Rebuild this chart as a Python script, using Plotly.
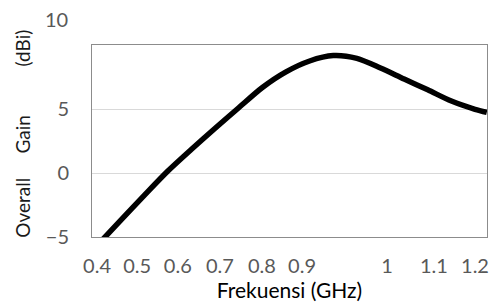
import plotly.graph_objects as go

# Frequency (GHz) and overall gain (dBi)
freq_ghz = [0.40, 0.45, 0.50, 0.55, 0.60, 0.65, 0.70, 0.75, 0.80, 0.85,
            0.90, 0.95, 1.00, 1.05, 1.10, 1.15, 1.20, 1.225]
gain_dbi = [-5.67, -3.70, -1.75, 0.15, 1.85, 3.50, 5.10, 6.68, 7.90, 8.75,
            9.17, 8.95, 8.20, 7.34, 6.50, 5.62, 4.98, 4.74]

x_tick_labels = ["0.4", "0.5", "0.6", "0.7", "0.8", "0.9", "1", "1.1", "1.2"]
# where the reference prints each x label along the axis (GHz units)
x_tick_positions = [0.40, 0.485, 0.571, 0.660, 0.749, 0.834, 1.014, 1.113, 1.200]

y_tick_values = [-5, 0, 5]
y_top_label = "10"

FONT = "Lato, Carlito, Calibri, sans-serif"
SP = "\u00a0"
ZW = "\u200b"

fig = go.Figure()
fig.add_trace(go.Scatter(
    x=freq_ghz, y=gain_dbi, mode="lines",
    line=dict(color="black", width=5.5, shape="spline", smoothing=0.8),
    showlegend=False, hoverinfo="x+y",
))

fig.update_layout(
    width=491, height=305,
    margin=dict(l=92, r=4, t=45, b=68),
    paper_bgcolor="white", plot_bgcolor="white",
    font=dict(family=FONT, size=20, color="#595959"),
    xaxis=dict(
        range=[0.3894, 1.2254],
        tickmode="array", tickvals=x_tick_positions, ticktext=x_tick_labels,
        showgrid=False, zeroline=False,
        showline=True, mirror=True, linecolor="#8c8c8c", linewidth=1,
        ticks="", ticklabelstandoff=11,
        tickfont=dict(family=FONT, size=20, color="#595959"),
        title=dict(text="Frekuensi (GHz)", standoff=5,
                   font=dict(family=FONT, size=21, color="#000000")),
        automargin=False,
    ),
    yaxis=dict(
        range=[-5, 10],
        tickmode="array", tickvals=y_tick_values,
        showgrid=True, gridcolor="#d9d9d9", gridwidth=1,
        zeroline=False,
        showline=True, mirror=True, linecolor="#8c8c8c", linewidth=1,
        ticks="", ticklabelstandoff=18,
        tickfont=dict(family=FONT, size=20, color="#595959"),
        title=dict(text=ZW + SP * 3 + "Overall" + SP * 5 + "Gain" + SP * 10 + "(dBi)",
                   standoff=10,
                   font=dict(family=FONT, size=19, color="#1a1a1a")),
        automargin=False,
    ),
)

fig.add_annotation(
    text=y_top_label, xref="paper", yref="paper",
    x=-0.0557, y=1.136, xanchor="right", yanchor="middle",
    showarrow=False, font=dict(family=FONT, size=20, color="#595959"),
)

fig.write_html("out.html", config={"displayModeBar": False},
               post_script="document.body.style.margin='0px';")
